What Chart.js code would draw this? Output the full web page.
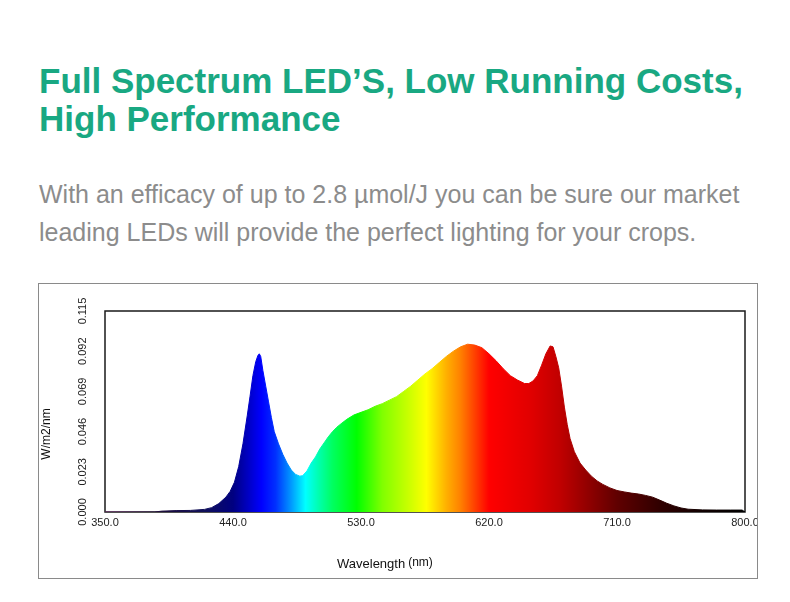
<!DOCTYPE html>
<html>
<head>
<meta charset="utf-8">
<title>Full Spectrum LED'S</title>
<script src="https://cdn.jsdelivr.net/npm/chart.js@4.4.1/dist/chart.umd.min.js"></script>
<style>
body { margin: 0; background: #fff; font-family: Arial, "Liberation Sans", sans-serif; }
#page { position: relative; width: 790px; height: 602px; overflow: hidden; }
h1 { position: absolute; left: 39px; top: 62px; margin: 0; font-size: 35px; line-height: 38px; font-weight: bold; color: #19a882; white-space: nowrap; }
p.lead { position: absolute; left: 39px; top: 175px; margin: 0; font-size: 25px; line-height: 38px; color: #8c8c8c; white-space: nowrap; }
#box { position: absolute; left: 38px; top: 283px; width: 720px; height: 296px; border: 1px solid #8a8a8a; box-sizing: border-box; }
canvas { display: block; }
</style>
</head>
<body>
<div id="page">
  <h1>Full Spectrum LED’S, Low Running Costs,<br>High Performance</h1>
  <p class="lead">With an efficacy of up to 2.8 µmol/J you can be sure our market<br>leading LEDs will provide the perfect lighting for your crops.</p>
  <div id="box"><canvas id="chart" width="718" height="294"></canvas></div>
</div>
<script>
// spectrum values
var wavelengths = [350, 385, 390, 400, 410, 420, 425, 430, 435, 438, 441, 444, 447, 450, 452, 454, 456, 457.5, 458.5, 459.5, 461, 463, 465, 467, 469, 472, 475, 478, 481, 484, 487, 489, 492, 495, 498, 501, 504, 507, 510, 513, 516, 520, 525, 530, 535, 540, 545, 550, 555, 560, 565, 570, 575, 580, 585, 590, 595, 600, 605, 610, 615, 620, 625, 630, 635, 640, 645, 648, 651, 654, 657, 660, 663, 665, 667, 669, 671, 673, 675, 677, 680, 684, 688, 692, 696, 700, 705, 710, 715, 720, 725, 730, 735, 740, 745, 750, 755, 760, 770, 780, 790, 798, 800];
var irradiance = [0, 0, 0.0005, 0.0008, 0.0009, 0.0015, 0.0025, 0.0048, 0.0085, 0.0118, 0.017, 0.026, 0.039, 0.055, 0.0663, 0.078, 0.086, 0.0895, 0.0905, 0.089, 0.081, 0.072, 0.063, 0.054, 0.046, 0.039, 0.033, 0.028, 0.024, 0.0215, 0.0205, 0.0208, 0.0235, 0.028, 0.0315, 0.036, 0.0395, 0.043, 0.046, 0.0485, 0.0505, 0.053, 0.0555, 0.057, 0.0585, 0.0605, 0.062, 0.064, 0.066, 0.069, 0.072, 0.0755, 0.079, 0.082, 0.0855, 0.089, 0.092, 0.0945, 0.096, 0.0955, 0.094, 0.0905, 0.0865, 0.082, 0.078, 0.0755, 0.0735, 0.0735, 0.075, 0.078, 0.084, 0.0905, 0.095, 0.0945, 0.089, 0.0825, 0.072, 0.06, 0.05, 0.042, 0.0345, 0.028, 0.024, 0.0205, 0.0178, 0.0158, 0.0138, 0.0123, 0.0115, 0.0108, 0.0103, 0.0095, 0.0085, 0.0068, 0.005, 0.0035, 0.0023, 0.0016, 0.0012, 0.0011, 0.0011, 0.0011, 0];
var xTicks = [350, 440, 530, 620, 710, 800];
var yTicks = [0, 0.023, 0.046, 0.069, 0.092, 0.115];
var yTitle = 'W/m2/nm';
var xTitle = 'Wavelength';
var xUnit = '(nm)';

// colour of the fill along the wavelength axis
var spectrumStops = [
  [350, '#7a2a7a'], [390, '#1a0a3a'], [420, '#10105a'], [440, '#000080'], [460, '#0000ff'],
  [470, '#0030ff'], [480, '#0090ff'], [491, '#00ffff'], [500, '#00ffb0'], [510, '#00ff60'],
  [527, '#00ff00'], [545, '#80ff00'], [565, '#d0ff00'], [576, '#ffff00'], [590, '#ffb000'],
  [600, '#ff8000'], [620, '#ff0000'], [650, '#e00000'], [670, '#c00000'], [690, '#900000'],
  [710, '#600000'], [740, '#300000'], [770, '#100000'], [800, '#000000']
];

var FONT = 'Arial, "Liberation Sans", sans-serif';
var points = wavelengths.map(function(w, i) { return {x: w, y: irradiance[i]}; });

var gradCache = null;
function spectrumFill(context) {
  var chart = context.chart;
  if (!chart.chartArea) return '#0000ff';
  var xs = chart.scales.x;
  var x0 = xs.getPixelForValue(xs.min), x1 = xs.getPixelForValue(xs.max);
  if (gradCache && gradCache.x0 === x0 && gradCache.x1 === x1) return gradCache.g;
  var g = chart.ctx.createLinearGradient(x0, 0, x1, 0);
  spectrumStops.forEach(function(s) {
    g.addColorStop((s[0] - xs.min) / (xs.max - xs.min), s[1]);
  });
  gradCache = {x0: x0, x1: x1, g: g};
  return g;
}

var framePlugin = {
  id: 'frame',
  beforeDatasetsDraw: function(chart) {
    var a = chart.chartArea, ctx = chart.ctx;
    ctx.save();
    ctx.strokeStyle = '#1a1a1a';
    ctx.lineWidth = 1.5;
    ctx.strokeRect(a.left, a.top, a.right - a.left, a.bottom - a.top);
    ctx.restore();
  }
};

var titlePlugin = {
  id: 'axisTitles',
  afterDraw: function(chart) {
    var ctx = chart.ctx;
    ctx.save();
    ctx.fillStyle = '#111';
    // y title
    ctx.translate(8, 150);
    ctx.rotate(-Math.PI / 2);
    ctx.font = '12px ' + FONT;
    ctx.textAlign = 'center';
    ctx.textBaseline = 'middle';
    ctx.fillText(yTitle, 0, 0);
    ctx.restore();
    // x title
    ctx.save();
    ctx.fillStyle = '#111';
    ctx.textAlign = 'left';
    ctx.textBaseline = 'alphabetic';
    ctx.font = '13px ' + FONT;
    ctx.fillText(xTitle, 298, 284);
    var w = ctx.measureText(xTitle).width;
    ctx.font = '12px ' + FONT;
    ctx.fillText(xUnit, 298 + w + 3, 282);
    ctx.restore();
  }
};

new Chart(document.getElementById('chart'), {
  type: 'line',
  data: {
    datasets: [{
      data: points,
      fill: 'origin',
      backgroundColor: spectrumFill,
      borderColor: spectrumFill,
      borderWidth: 1,
      pointRadius: 0,
      tension: 0
    }]
  },
  options: {
    responsive: false,
    animation: false,
    layout: { padding: { top: 27, right: 12, left: 0, bottom: 0 } },
    plugins: { legend: { display: false }, tooltip: { enabled: false } },
    scales: {
      x: {
        type: 'linear',
        min: 350,
        max: 800,
        grid: { display: false, drawTicks: false },
        border: { display: false },
        afterBuildTicks: function(s) { s.ticks = xTicks.map(function(v) { return {value: v}; }); },
        afterFit: function(s) { s.height = 66; s.paddingLeft = 0; s.paddingRight = 0; },
        ticks: {
          font: { size: 11, family: FONT },
          color: '#222',
          padding: 4,
          minRotation: 0,
          maxRotation: 0,
          autoSkip: false,
          callback: function(v) { return v.toFixed(1); }
        }
      },
      y: {
        min: 0,
        max: 0.115,
        grid: { display: false, drawTicks: false },
        border: { display: false },
        afterBuildTicks: function(s) { s.ticks = yTicks.map(function(v) { return {value: v}; }); },
        afterFit: function(s) { s.width = 66; },
        ticks: {
          font: { size: 11, family: FONT },
          color: '#222',
          padding: 8,
          minRotation: 90,
          maxRotation: 90,
          crossAlign: 'center',
          autoSkip: false,
          callback: function(v) { return v.toFixed(3); }
        }
      }
    }
  },
  plugins: [framePlugin, titlePlugin]
});
</script>
</body>
</html>
